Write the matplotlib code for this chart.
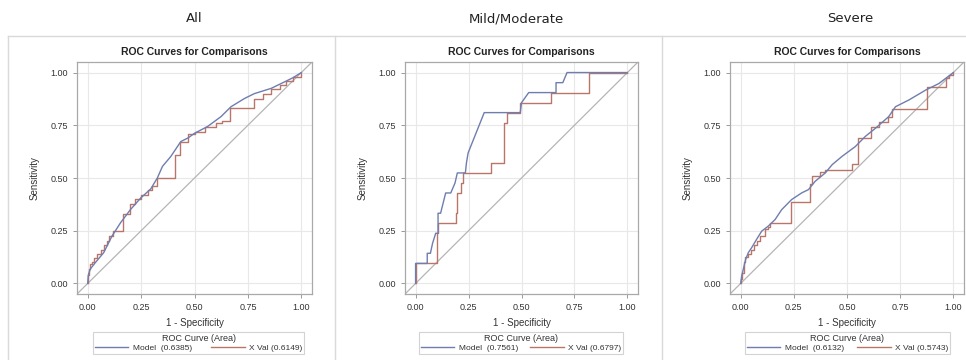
import matplotlib
matplotlib.use("Agg")
import matplotlib.pyplot as plt
from matplotlib.lines import Line2D

plt.rcParams['font.family'] = ['Liberation Sans', 'DejaVu Sans']

# ---------------- data ----------------
panel_titles = ["All", "Mild/Moderate", "Severe"]
model_auc = ["0.6385", "0.7561", "0.6132"]
xval_auc = ["0.6149", "0.6797", "0.5743"]

# Panel 1 (All) - Model curve
all_model_x = [0, 0.003, 0.012, 0.036, 0.075, 0.114, 0.154, 0.2, 0.248, 0.295, 0.326, 0.35, 0.389,
               0.436, 0.47, 0.5, 0.561, 0.624, 0.671, 0.734, 0.78, 0.859, 0.922, 0.96, 1.0]
all_model_y = [0, 0.04, 0.068, 0.099, 0.146, 0.225, 0.288, 0.35, 0.405, 0.448, 0.5, 0.555, 0.602,
               0.673, 0.69, 0.712, 0.744, 0.791, 0.838, 0.877, 0.9, 0.925, 0.956, 0.975, 1.0]
# Panel 1 (All) - X Val step curve (x where curve jumps to y)
all_xval_x = [0, 0, 0.005, 0.01, 0.02, 0.03, 0.045, 0.06, 0.075, 0.09, 0.1, 0.12, 0.167, 0.2, 0.22,
              0.25, 0.28, 0.3, 0.323, 0.41, 0.433, 0.47, 0.5, 0.55, 0.6, 0.63, 0.667, 0.78, 0.82,
              0.86, 0.9, 0.93, 0.96, 1.0]
all_xval_y = [0, 0.04, 0.07, 0.09, 0.1, 0.12, 0.14, 0.16, 0.18, 0.2, 0.225, 0.25, 0.33, 0.375, 0.4,
              0.42, 0.445, 0.46, 0.5, 0.61, 0.67, 0.71, 0.72, 0.74, 0.76, 0.77, 0.83, 0.875, 0.9,
              0.92, 0.94, 0.96, 0.98, 1.0]

# Panel 2 (Mild/Moderate) - Model curve
mm_model_x = [0, 0, 0.055, 0.055, 0.07, 0.08, 0.095, 0.106, 0.106, 0.118, 0.142, 0.166, 0.186,
              0.197, 0.235, 0.24, 0.248, 0.324, 0.494, 0.5, 0.534, 0.663, 0.663, 0.695, 0.715, 1.0]
mm_model_y = [0, 0.095, 0.095, 0.143, 0.143, 0.19, 0.238, 0.238, 0.333, 0.333, 0.429, 0.429, 0.476,
              0.524, 0.524, 0.571, 0.619, 0.81, 0.81, 0.857, 0.905, 0.905, 0.952, 0.952, 1.0, 1.0]
# Panel 2 (Mild/Moderate) - X Val step curve
mm_xval_x = [0, 0, 0.1, 0.103, 0.106, 0.19, 0.197, 0.213, 0.224, 0.355, 0.419, 0.43, 0.494,
             0.64, 0.818, 1.0]
mm_xval_y = [0, 0.095, 0.143, 0.238, 0.286, 0.333, 0.429, 0.476, 0.524, 0.571, 0.762, 0.81,
             0.857, 0.905, 1.0, 1.0]

# Panel 3 (Severe) - Model curve
sv_model_x = [0, 0.005, 0.0126, 0.024, 0.036, 0.052, 0.075, 0.099, 0.13, 0.162, 0.193, 0.24, 0.288,
              0.319, 0.35, 0.398, 0.43, 0.476, 0.539, 0.586, 0.634, 0.696, 0.728, 0.791, 0.87,
              0.932, 1.0]
sv_model_y = [0, 0.036, 0.068, 0.115, 0.146, 0.17, 0.209, 0.248, 0.272, 0.303, 0.35, 0.398, 0.43,
              0.445, 0.484, 0.524, 0.563, 0.602, 0.649, 0.697, 0.736, 0.791, 0.838, 0.87, 0.917,
              0.948, 1.0]
# Panel 3 (Severe) - X Val step curve
sv_xval_x = [0, 0, 0.005, 0.015, 0.02, 0.036, 0.05, 0.065, 0.075, 0.09, 0.115, 0.13, 0.138, 0.237,
             0.327, 0.335, 0.374, 0.398, 0.524, 0.55, 0.615, 0.65, 0.693, 0.712, 0.877, 0.964,
             0.98, 1.0]
sv_xval_y = [0, 0.02, 0.05, 0.1, 0.125, 0.14, 0.16, 0.18, 0.2, 0.225, 0.26, 0.267, 0.286, 0.387,
             0.47, 0.51, 0.53, 0.54, 0.565, 0.69, 0.74, 0.767, 0.79, 0.825, 0.93, 0.975, 0.99, 1.0]

ticks = [0.0, 0.25, 0.5, 0.75, 1.0]
tick_labels = ["0.00", "0.25", "0.50", "0.75", "1.00"]

models = [(all_model_x, all_model_y), (mm_model_x, mm_model_y), (sv_model_x, sv_model_y)]
xvals = [(all_xval_x, all_xval_y), (mm_xval_x, mm_xval_y), (sv_xval_x, sv_xval_y)]

# ---------------- layout ----------------
W, H = 966, 360
fig = plt.figure(figsize=(W / 100, H / 100), dpi=100)
fig.patch.set_facecolor("white")

BLUE = "#6f7daf"
RED = "#b8766a"
GRIDC = "#e8e8e8"
FRAMEC = "#a9a9a9"

axes_px = [(77, 312), (405, 638), (730, 964)]
axes_top, axes_bot = 62, 294
header_x = [194, 516, 850]
legend_px = [(93, 304), (419, 623), (745, 950)]

# panel boxes
box_y = 1 - 36 / H
fig.add_artist(Line2D([8 / W, 1.0], [box_y, box_y], color="#d9d9d9", lw=1.0))
for bx in [8, 335, 662]:
    fig.add_artist(Line2D([bx / W, bx / W], [0, box_y], color="#d9d9d9", lw=1.0))

for i in range(3):
    l, r = axes_px[i]
    ax = fig.add_axes([l / W, 1 - axes_bot / H, (r - l) / W, (axes_bot - axes_top) / H])
    ax.set_xlim(-0.05, 1.05)
    ax.set_ylim(-0.05, 1.05)
    ax.set_xticks(ticks)
    ax.set_yticks(ticks)
    ax.set_xticklabels(tick_labels)
    ax.set_yticklabels(tick_labels)
    ax.grid(True, color=GRIDC, lw=0.8)
    ax.set_axisbelow(True)
    for s in ax.spines.values():
        s.set_color(FRAMEC)
        s.set_linewidth(0.9)
    ax.tick_params(colors="#9a9a9a", labelcolor="#333333", labelsize=6.5, length=3, width=0.7)
    ax.axline((0, 0), (1, 1), color="#b5b5b5", lw=0.9, zorder=1)
    mx, my = models[i]
    xx, xy = xvals[i]
    ax.plot(xx, xy, color=RED, lw=1.0, drawstyle="steps-post", zorder=3)
    ax.plot(mx, my, color=BLUE, lw=1.0, zorder=4)
    ax.set_title("ROC Curves for Comparisons", fontsize=7.5, fontweight="bold", color="#222222", pad=5)
    ax.set_xlabel("1 - Specificity", fontsize=7, color="#333333", labelpad=4)
    ax.set_ylabel("Sensitivity", fontsize=7, color="#333333", labelpad=8)

    fig.text(header_x[i] / W, 1 - 19 / H, panel_titles[i], ha="center", va="center",
             fontsize=9.5, color="#222222", family=["Liberation Sans Narrow", "DejaVu Sans"])

    # legend
    ll, lr = legend_px[i]
    handles = [Line2D([], [], color=BLUE, lw=1.0), Line2D([], [], color=RED, lw=1.0)]
    leg = fig.legend(handles, ["Model  (" + model_auc[i] + ")", "X Val (" + xval_auc[i] + ")"],
                     title="ROC Curve (Area)", ncol=2, loc="upper left",
                     bbox_to_anchor=(ll / W, 1 - 358 / H, (lr - ll) / W, 26 / H), mode="expand",
                     fontsize=6, title_fontsize=6.5, frameon=True, fancybox=False,
                     handlelength=4.0, handletextpad=0.5, columnspacing=1.0,
                     borderpad=0.25, labelspacing=0.1, borderaxespad=0)
    leg.get_frame().set_edgecolor("#c8c8c8")
    leg.get_frame().set_linewidth(0.8)
    for t in leg.get_texts():
        t.set_color("#333333")
    leg.get_title().set_color("#333333")

fig.savefig("out.png", dpi=100, facecolor="white")
